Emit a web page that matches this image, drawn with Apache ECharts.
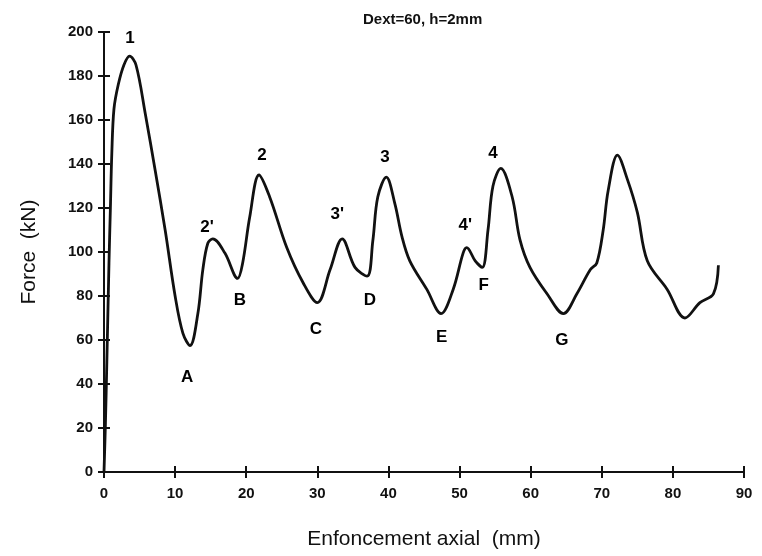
<!DOCTYPE html>
<html>
<head>
<meta charset="utf-8">
<script src="https://cdn.jsdelivr.net/npm/echarts@6/dist/echarts.min.js"></script>
<style>html,body{margin:0;padding:0;background:#fff}#c{width:762px;height:556px}</style>
</head>
<body>
<div id="c"></div>
<script>
var titleText = 'Dext=60, h=2mm';
var xName = 'Enfoncement axial  (mm)';
var yName = 'Force  (kN)';
var xTicks = [0, 10, 20, 30, 40, 50, 60, 70, 80, 90];
var yTicks = [0, 20, 40, 60, 80, 100, 120, 140, 160, 180, 200];
var disp = [0, 0.2, 0.4, 0.7, 0.9, 1.1, 1.4, 2, 2.8, 3.6, 4.5, 5.8, 7.2, 8.6, 10, 11.1, 12.1, 13.2, 13.9, 14.6, 15.3, 17, 18.8, 19.5, 20.5, 21.8, 23.3, 25.7, 28, 30, 31.8, 33.5, 35.3, 37, 37.8, 38.5, 39.7, 40.9, 41.9, 43, 45.4, 47.4, 49.1, 50.5, 51, 52.2, 53.2, 54, 54.7, 55.8, 57.4, 58.5, 59.9, 62.3, 64.6, 66.5, 68.4, 69.3, 70.2, 70.9, 72.2, 73.6, 75, 76.4, 79.2, 81.7, 83.8, 85.7, 86.4];
var force = [0, 22, 50, 95, 120, 145, 165, 176, 185, 189, 185, 163, 137, 110, 80, 63, 57.5, 72, 92, 104, 106, 99.5, 88, 95, 116, 135, 125, 102, 86, 77, 92, 106, 93, 89, 105, 125, 134, 122, 107, 96, 83, 72, 83, 99.5, 102, 96, 93, 110, 130, 138, 125, 105.5, 93, 81, 72, 81, 92, 95, 110, 128, 144, 133, 118, 96, 83, 70, 77, 81, 94];
var labelText = ['1', "2'", '2', "3'", '3', "4'", '4', 'A', 'B', 'C', 'D', 'E', 'F', 'G'];
var labelX = [3.66, 14.5, 22.2, 32.8, 39.5, 50.8, 54.7, 11.7, 19.1, 29.8, 37.4, 47.5, 53.4, 64.4];
var labelY = [197, 111, 144, 117, 143, 112, 145, 43, 78, 65, 78, 61, 85, 60];

var curve = disp.map(function (x, i) { return [x, force[i]]; });
var labels = labelText.map(function (t, i) { return { value: [labelX[i], labelY[i]], name: t }; });

var font = 'Liberation Sans, Arial, sans-serif';
var axisCommon = {
  min: 0,
  axisLine: { show: true, onZero: false, lineStyle: { color: '#111', width: 2 } },
  splitLine: { show: false }
};
var chart = echarts.init(document.getElementById('c'));
chart.setOption({
  backgroundColor: '#fff',
  animation: false,
  title: {
    text: titleText, left: 358, top: 7,
    textStyle: { fontFamily: font, fontSize: 15, fontWeight: 'bold', color: '#111' }
  },
  grid: { left: 104, top: 32, width: 640, height: 440, containLabel: false, outerBoundsMode: 'none' },
  xAxis: [
    Object.assign({}, axisCommon, {
      type: 'value', max: 90, interval: 10,
      name: xName, nameLocation: 'middle', nameGap: 57,
      nameTextStyle: { fontFamily: font, fontSize: 21, color: '#111' },
      axisTick: { show: true, inside: false, length: 6, lineStyle: { color: '#111', width: 2 } },
      axisLabel: { margin: 14, fontFamily: font, fontSize: 15, fontWeight: 'bold', color: '#111' }
    }),
    Object.assign({}, axisCommon, {
      type: 'value', max: 90, interval: 10, position: 'bottom',
      axisTick: { show: true, inside: true, length: 6, lineStyle: { color: '#111', width: 2 } },
      axisLabel: { show: false }
    })
  ],
  yAxis: [
    Object.assign({}, axisCommon, {
      type: 'value', max: 200, interval: 20,
      name: yName, nameLocation: 'middle', nameGap: 64, nameRotate: 90,
      nameTextStyle: { fontFamily: font, fontSize: 21, color: '#111' },
      axisTick: { show: true, inside: false, length: 6, lineStyle: { color: '#111', width: 2 } },
      axisLabel: { margin: 11, fontFamily: font, fontSize: 15, fontWeight: 'bold', color: '#111' }
    }),
    Object.assign({}, axisCommon, {
      type: 'value', max: 200, interval: 20, position: 'left',
      axisTick: { show: true, inside: true, length: 6, lineStyle: { color: '#111', width: 2 } },
      axisLabel: { show: false }
    })
  ],
  series: [
    {
      type: 'line', data: curve, smooth: 0.35, symbol: 'none',
      lineStyle: { color: '#111', width: 2.8 }
    },
    {
      type: 'scatter', data: labels, symbolSize: 1,
      itemStyle: { opacity: 0 },
      label: {
        show: true, position: 'inside', formatter: '{b}', opacity: 1,
        fontFamily: font, fontSize: 17, fontWeight: 'bold', color: '#000',
        textBorderWidth: 0
      }
    }
  ]
});
</script>
</body>
</html>
